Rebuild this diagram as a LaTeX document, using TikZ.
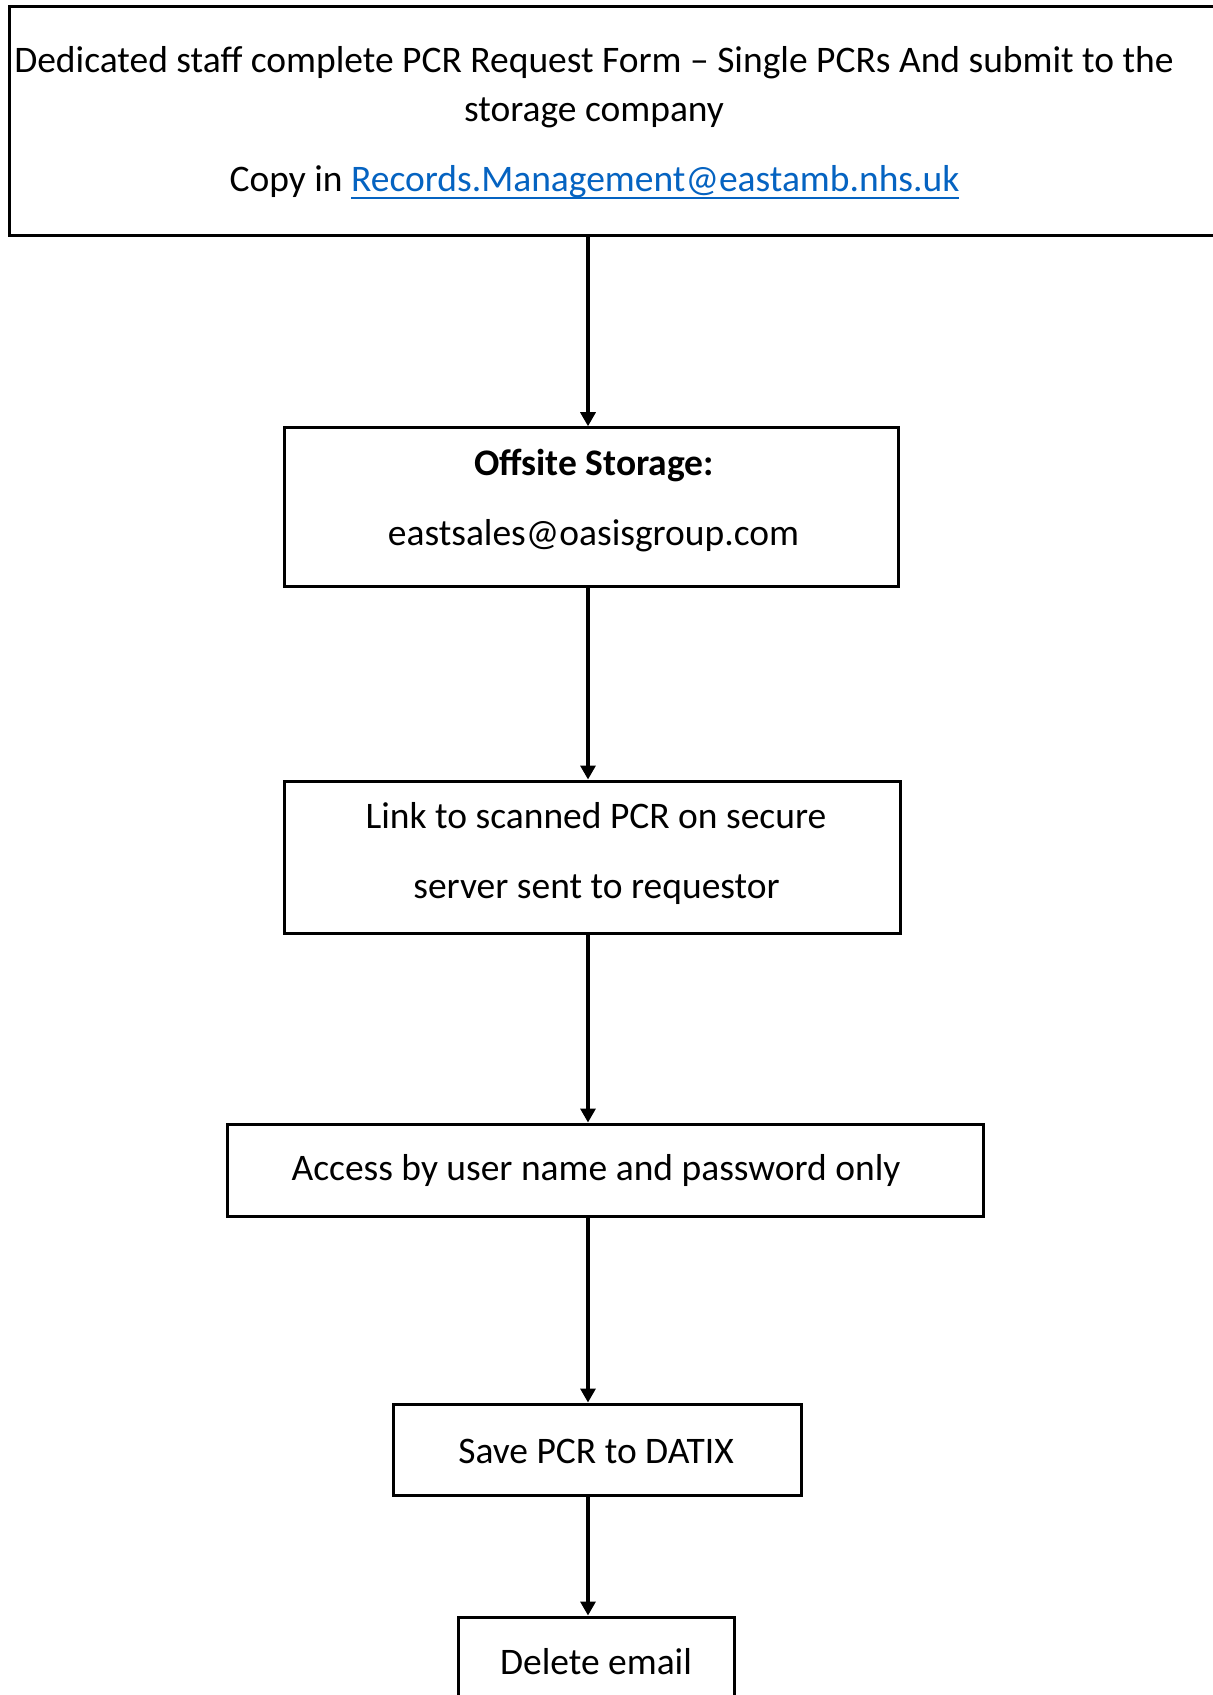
\documentclass[tikz,border=0pt]{standalone}
\usepackage{fontspec}
\setmainfont{Carlito}
\usetikzlibrary{arrows.meta}
\definecolor{linkblue}{HTML}{0563C1}
\newcommand{\ulinktext}[1]{\setbox0=\hbox{#1}\leavevmode\rlap{\rule[-3.4pt]{\wd0}{0.9pt}}\box0}
\begin{document}
\begin{tikzpicture}[x=0.5pt,y=-0.5pt,
  box/.style={draw=black,line width=1.5pt,inner sep=0pt},
  txt/.style={inner sep=0pt,anchor=base,font=\fontsize{18.75}{22}\selectfont},
  arr/.style={line width=1.6pt,-{Triangle[length=7pt,width=7.5pt]}}]
\clip (0,0) rectangle (1213,1695);
\fill[white] (0,0) rectangle (1213,1695);
% boxes
\node[box,minimum width=608pt,minimum height=114.5pt] (b1) at (617,121.5) {};
\node[box,minimum width=307pt,minimum height=79.25pt] (b2) at (591,507) {};
\node[box,minimum width=308pt,minimum height=76pt] (b3) at (592,857) {};
\node[box,minimum width=378pt,minimum height=46pt] (b4) at (605,1170) {};
\node[box,minimum width=204pt,minimum height=45.5pt] (b5) at (597,1449.5) {};
\node[box,minimum width=138pt,minimum height=71.5pt] (b6) at (596.5,1688.5) {};
% texts
\node[txt] (t1a) at (594,73) {Dedicated staff complete PCR Request Form – Single PCRs And submit to the};
\node[txt] (t1b) at (594,121.5) {storage company};
\node[txt] (t1c) at (594.5,192) {Copy in \textcolor{linkblue}{\ulinktext{Records.Management@eastamb.nhs.uk}}};
\node[txt] (t2a) at (594,475) {\bfseries Offsite Storage:};
\node[txt] (t2b) at (593.5,545) {eastsales@oasisgroup.com};
\node[txt] (t3a) at (596,828) {Link to scanned PCR on secure};
\node[txt] (t3b) at (596.5,898) {server sent to requestor};
\node[txt] (t4) at (596,1180) {Access by user name and password only};
\node[txt] (t5) at (596,1463) {Save PCR to DATIX};
\node[txt] (t6) at (596,1674) {Delete email};
% arrows
\coordinate (ax) at (588,0);
\draw[arr] (b1.south -| ax) -- (b2.north -| ax);
\draw[arr] (b2.south -| ax) -- (b3.north -| ax);
\draw[arr] (b3.south -| ax) -- (b4.north -| ax);
\draw[arr] (b4.south -| ax) -- (b5.north -| ax);
\draw[arr] (b5.south -| ax) -- (b6.north -| ax);
\end{tikzpicture}
\end{document}
